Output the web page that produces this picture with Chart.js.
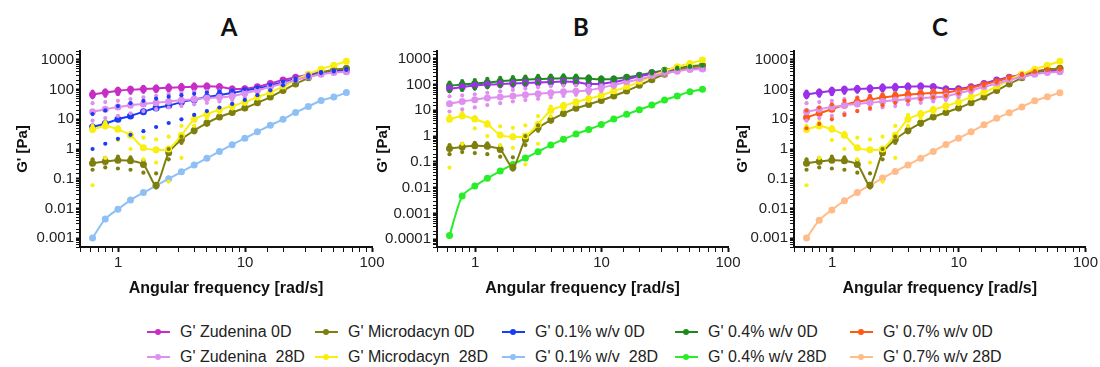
<!DOCTYPE html>
<html>
<head>
<meta charset="utf-8">
<script src="https://cdn.jsdelivr.net/npm/chart.js@4"></script>
<style>
  body { margin: 0; background: #fff; width: 1100px; height: 367px; position: relative; overflow: hidden; font-family: "Liberation Sans", Arial, sans-serif; }
  .box { position: absolute; }
  .panel-title { position: absolute; top: 12px; font: bold 24px Lato, "Open Sans", sans-serif; color: #111; transform: translateX(-50%); }
  .leg { position: absolute; font-size: 16px; color: #222; white-space: pre; line-height: 18px; }
  .leg .mk { position: absolute; left: -33px; top: 8px; width: 23px; height: 2px; }
  .leg .dot { position: absolute; left: 8px; top: -2px; width: 6px; height: 6px; border-radius: 50%; }
</style>
</head>
<body>
<div class="panel-title" style="left:229px">A</div>
<div class="panel-title" style="left:581px">B</div>
<div class="panel-title" style="left:940px">C</div>
<div class="box" style="left:0px;top:40px"><canvas id="chartA" width="390" height="262"></canvas></div>
<div class="box" style="left:360px;top:40px"><canvas id="chartB" width="386" height="262"></canvas></div>
<div class="box" style="left:720px;top:40px"><canvas id="chartC" width="380" height="262"></canvas></div>
<div id="legenda"></div>
<script>
// frequencias (rad/s)
const freq = [0.628, 0.791, 0.995, 1.25, 1.58, 1.99, 2.50, 3.15, 3.97, 5.00, 6.28, 7.91, 9.95, 12.5, 15.8, 19.9, 25.0, 31.5, 39.7, 50.0, 62.8]

// G' medias
const zud0   = [68, 80, 92, 100, 105, 110, 115, 120, 125, 130, 125, 105, 108, 125, 160, 210, 260, 320, 380, 420, 420]
const zud28  = [18, 22, 26, 30, 33, 36, 40, 44, 48, 52, 55, 60, 75, 95, 125, 160, 210, 270, 330, 380, 400]
const mic0   = [0.33, 0.38, 0.42, 0.40, 0.30, 0.06, 0.75, 2.1, 4.2, 7.5, 12, 17, 24, 36, 56, 93, 155, 250, 370, 470, 520]
const mic28  = [4.5, 6, 4.6, 2.9, 1.1, 0.94, 1.0, 2.9, 10, 15, 21, 28, 38, 56, 81, 126, 215, 330, 490, 660, 900]
const p01_0  = [5.5, 7.2, 10, 13, 18, 24, 29, 38, 46, 56, 66, 77, 93, 110, 136, 175, 227, 290, 380, 430, 480]
const p01_28 = [0.001, 0.0044, 0.0093, 0.019, 0.034, 0.058, 0.1, 0.17, 0.29, 0.49, 0.83, 1.4, 2.3, 3.8, 6.3, 10, 17, 27, 43, 56, 80]
const p04_0  = [90, 100, 110, 120, 135, 145, 155, 165, 170, 175, 175, 170, 160, 165, 190, 230, 290, 360, 430, 500, 560]
const p04_28 = [0.00014, 0.0048, 0.0115, 0.023, 0.044, 0.08, 0.14, 0.25, 0.45, 0.75, 1.2, 1.8, 2.8, 4.6, 7, 10.5, 16, 25, 36, 53, 65]
const p07_0  = [11.5, 16, 22, 30, 39, 46, 54, 61, 68, 73, 77, 80, 95, 115, 150, 190, 250, 325, 410, 475, 500]
const p07_28 = [0.001, 0.004, 0.0089, 0.018, 0.034, 0.06, 0.105, 0.175, 0.29, 0.49, 0.83, 1.43, 2.3, 3.8, 6.5, 10.8, 16.7, 26, 42, 57, 79]

// limites (pontos soltos)
const zud0Hi  = [85, 95, 108, 118, 125, 130, 138, 145, 150, 150, 140, 118, 118, 132, 165, 215, 265, 325, 385, 430, 440]
const zud0Lo  = [55, 62, 70, 78, 84, 88, 92, 95, 98, 100, 98, 92, 98, 118, 152, 200, 250, 312, 372, 410, 400]
const zud28Hi = [35, 38, 42, 48, 55, 62, 70, 78, 85, 90, 92, 92, 95, 110, 135, 170, 220, 280, 340, 390, 410]
const zud28Lo = [9, 11, 13, 16, 19, 22, 25, 28, 32, 36, 40, 45, 55, 80, 115, 150, 200, 260, 320, 370, 390]
const mic0Hi  = [0.45, 0.5, 0.55, 0.52, 0.42, 0.15, 1.0, 2.6, 4.8, 8.5, 13, 18, 25, 38, 58, 96, 160, 255, 380, 480, 540]
const mic0Lo  = [0.2, 0.24, 0.22, 0.2, 0.16, 0.05, 0.45, 1.6, 3.6, 6.5, 11, 16, 22, 34, 54, 90, 150, 245, 360, 460, 500]
const mic28Hi = [6, 8, 5.5, 3.5, 2.4, 2.1, 2.6, 6, 14, 18, 24, 32, 42, 62, 88, 135, 225, 340, 500, 680, 960]
const mic28Lo = [0.06, 0.5, 2.0, 1.0, 0.45, 0.35, 0.08, 0.5, 6, 11, 17, 23, 33, 50, 74, 118, 205, 320, 480, 640, 840]
const p01Hi   = [15, 20, 28, 35, 42, 50, 58, 65, 72, 80, 88, 95, 105, 120, 145, 185, 235, 300, 390, 440, 500]
const p01Lo   = [1, 1.5, 2.2, 3, 4, 5.5, 7.5, 10, 14, 19, 25, 33, 45, 65, 95, 140, 200, 270, 360, 410, 460]
const p04Hi   = [120, 135, 150, 165, 180, 195, 205, 215, 220, 225, 220, 210, 190, 185, 210, 250, 310, 380, 450, 520, 580]
const p04Lo   = [55, 62, 70, 80, 90, 100, 108, 115, 120, 125, 128, 130, 130, 145, 170, 210, 270, 340, 410, 480, 540]
const p07Hi   = [20, 25, 32, 42, 52, 60, 68, 75, 82, 88, 92, 95, 105, 125, 160, 200, 260, 335, 420, 490, 520]
const p07Lo   = [5, 7, 10, 14, 19, 24, 30, 36, 42, 48, 55, 62, 75, 100, 135, 175, 235, 310, 395, 460, 480]

// legenda
const nomes = ["G' Zudenina 0D", "G' Microdacyn 0D", "G' 0.1% w/v 0D", "G' 0.4% w/v 0D", "G' 0.7% w/v 0D",
               "G' Zudenina  28D", "G' Microdacyn  28D", "G' 0.1% w/v  28D", "G' 0.4% w/v 28D", "G' 0.7% w/v 28D"]
const cores = ['#C62EC6', '#7F7F10', '#1A3CF5', '#1E8A1E', '#FF5A14',
               '#DE90EE', '#F8EE10', '#8FC0F5', '#28EE28', '#FFBB88']
const legX = [180, 348, 535, 708, 883]
const legY = [323, 348]

const cor = {
  zud0: '#C62EC6', zud0b: '#9B30E8', zud28: '#DE90EE', mic0: '#7F7F10', mic28: '#F8EE10',
  p01_0: '#1A3CF5', p01_28: '#8FC0F5', p04_0: '#1E8A1E', p04_28: '#28EE28', p07_0: '#FF5A14', p07_28: '#FFBB88'
}

function pts(vals) {
  return freq.map((f, i) => ({ x: f, y: vals[i] }))
}

function serie(vals, c) {
  return { data: pts(vals), borderColor: c, backgroundColor: c, borderWidth: 2, pointRadius: 3.5,
           pointBorderWidth: 0, tension: 0.25 }
}

// pontos sem linha (desvio)
function pontilhado(vals, c) {
  return { data: pts(vals), showLine: false, borderColor: c, backgroundColor: c,
           pointRadius: 2.1, pointBorderWidth: 0 }
}

function logLabel(v) {
  const e = Math.log10(v)
  if (Math.abs(e - Math.round(e)) > 1e-6) return ''
  const n = Math.round(e)
  if (n >= 0) return String(Math.pow(10, n))
  return '0.' + '0'.repeat(-n - 1) + '1'
}

function ehMaior(v) {
  const e = Math.log10(v)
  return Math.abs(e - Math.round(e)) < 1e-6
}

function criaGrafico(id, datasets, ymin, yLarg, padTop, padRight) {
  return new Chart(document.getElementById(id), {
    type: 'line',
    data: { datasets: datasets },
    options: {
      responsive: false,
      animation: false,
      layout: { padding: { top: padTop, right: padRight, left: 0, bottom: 0 } },
      plugins: { legend: { display: false }, tooltip: { enabled: false } },
      scales: {
        x: {
          type: 'logarithmic', min: 0.5, max: 100,
          border: { color: '#111', width: 2 },
          grid: { drawOnChartArea: false, drawTicks: true, tickLength: 5, color: '#111',
                  tickWidth: ctx => ehMaior(ctx.tick.value) ? 2 : 1 },
          ticks: { autoSkip: false, maxRotation: 0, color: '#222', padding: 2,
                   font: { family: 'Liberation Sans', size: 15 }, callback: v => logLabel(v) },
          title: { display: true, text: 'Angular frequency [rad/s]', color: '#111', padding: { top: 3 },
                   font: { family: 'Liberation Sans', size: 16, weight: 'bold' } },
          afterFit: s => { s.height = 55 }
        },
        y: {
          type: 'logarithmic', min: ymin, max: 2000,
          border: { color: '#111', width: 2 },
          grid: { drawOnChartArea: false, drawTicks: true, tickLength: 4, color: '#111',
                  tickWidth: ctx => ehMaior(ctx.tick.value) ? 2 : 1 },
          ticks: { autoSkip: false, color: '#222', padding: 2,
                   font: { family: 'Liberation Sans', size: 15 }, callback: v => logLabel(v) },
          title: { display: true, text: "G' [Pa]", color: '#111', padding: { top: 14, bottom: 2 },
                   font: { family: 'Liberation Sans', size: 15, weight: 'bold' } },
          afterFit: s => { s.width = yLarg }
        }
      }
    }
  })
}

function comuns(zc) {
  return [
    pontilhado(zud28Hi, cor.zud28), pontilhado(zud28Lo, cor.zud28),
    pontilhado(zud0Hi, zc), pontilhado(zud0Lo, zc),
    pontilhado(mic28Hi, cor.mic28), pontilhado(mic28Lo, cor.mic28),
    pontilhado(mic0Hi, cor.mic0), pontilhado(mic0Lo, cor.mic0),
    serie(zud28, cor.zud28), serie(mic28, cor.mic28), serie(mic0, cor.mic0)
  ]
}

criaGrafico('chartA', [
  pontilhado(p01Hi, cor.p01_0), pontilhado(p01Lo, cor.p01_0),
  ...comuns(cor.zud0),
  serie(p01_28, cor.p01_28), serie(p01_0, cor.p01_0), serie(zud0, cor.zud0)
], 0.0005, 80, 8, 18)

criaGrafico('chartB', [
  pontilhado(p04Hi, cor.p04_0), pontilhado(p04Lo, cor.p04_0),
  ...comuns(cor.zud0b),
  serie(p04_28, cor.p04_28), serie(zud0, cor.zud0b), serie(p04_0, cor.p04_0)
], 0.00005, 77, 8, 18)

criaGrafico('chartC', [
  pontilhado(p07Hi, cor.p07_0), pontilhado(p07Lo, cor.p07_0),
  ...comuns(cor.zud0b),
  serie(p07_28, cor.p07_28), serie(p07_0, cor.p07_0), serie(zud0, cor.zud0b)
], 0.0005, 74, 10, 13)

// monta a legenda
const legenda = document.getElementById('legenda')
nomes.forEach((nome, i) => {
  const item = document.createElement('div')
  item.className = 'leg'
  item.style.left = legX[i % 5] + 'px'
  item.style.top = legY[Math.floor(i / 5)] + 'px'
  item.innerHTML = '<span class="mk" style="background:' + cores[i] + '"><span class="dot" style="background:' + cores[i] + '"></span></span>'
  item.appendChild(document.createTextNode(nome))
  legenda.appendChild(item)
})
</script>
</body>
</html>
